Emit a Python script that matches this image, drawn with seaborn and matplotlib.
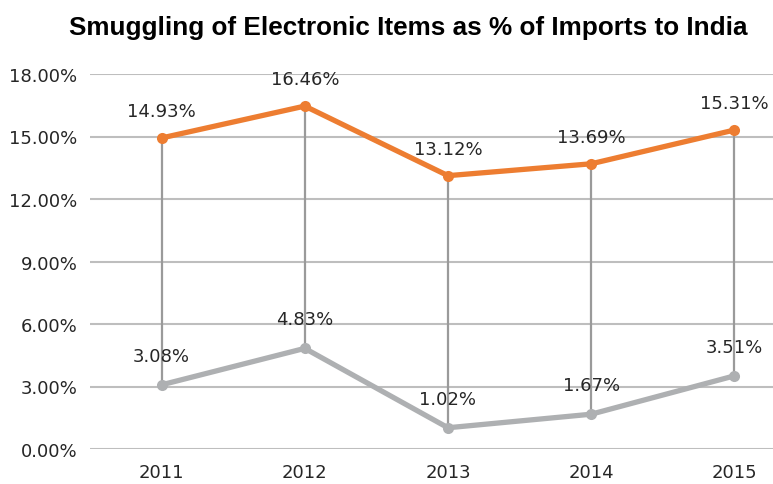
import matplotlib
matplotlib.use("Agg")
import matplotlib.pyplot as plt
import seaborn as sns
import pandas as pd
from matplotlib.ticker import PercentFormatter

years = ["2011", "2012", "2013", "2014", "2015"]
smuggling_high = [14.93, 16.46, 13.12, 13.69, 15.31]
smuggling_low = [3.08, 4.83, 1.02, 1.67, 3.51]
y_ticks = [0, 3, 6, 9, 12, 15, 18]

sns.set_theme(style="white")
plt.rcParams["font.family"] = ["DejaVu Sans"]

df = pd.DataFrame({
    "year": years * 2,
    "value": smuggling_high + smuggling_low,
    "series": ["high"] * len(years) + ["low"] * len(years),
})

fig = plt.figure(figsize=(7.73, 4.85), dpi=100)
ax = fig.add_axes([90 / 773, 35 / 485, 1 - 90 / 773, 375 / 485])

orange = "#ED7D31"
grey = "#AEB0B2"
text_col = "#262626"

# high-low connector lines between the two series
for i, (hi, lo) in enumerate(zip(smuggling_high, smuggling_low)):
    ax.plot([i, i], [lo, hi], color="#9A9A9A", lw=1.6, zorder=2)

sns.lineplot(data=df, x="year", y="value", hue="series",
             palette={"high": orange, "low": grey}, marker="o",
             markersize=8, markeredgewidth=0, linewidth=3.8,
             legend=False, ax=ax, zorder=3)

for i, v in enumerate(smuggling_high):
    ax.annotate(f"{v:.2f}%", (i, v), xytext=(0, 19.5), textcoords="offset points",
                ha="center", va="center", fontsize=13, color=text_col,
                annotation_clip=False)
for i, v in enumerate(smuggling_low):
    ax.annotate(f"{v:.2f}%", (i, v), xytext=(0, 21), textcoords="offset points",
                ha="center", va="center", fontsize=13, color=text_col,
                annotation_clip=False)

ax.set_xlim(-0.5, 4.27)
ax.set_ylim(0, 18)
ax.set_yticks(y_ticks)
ax.yaxis.set_major_formatter(PercentFormatter(decimals=2))
ax.grid(axis="y", color="#BEBEBE", lw=1.5)
ax.grid(axis="x", visible=False)
ax.set_axisbelow(True)
for s in ax.spines.values():
    s.set_visible(False)
ax.set_xlabel("")
ax.set_ylabel("")
ax.tick_params(axis="both", length=0, labelsize=13, labelcolor=text_col)
ax.tick_params(axis="y", pad=9)
ax.tick_params(axis="x", pad=10)

fig.text(408 / 773, 1 - 28 / 485, "Smuggling of Electronic Items as % of Imports to India",
         ha="center", va="center", fontsize=18.8, fontweight="bold",
         family=["Liberation Sans", "DejaVu Sans"], color="black")

fig.savefig("out.png", dpi=100)
